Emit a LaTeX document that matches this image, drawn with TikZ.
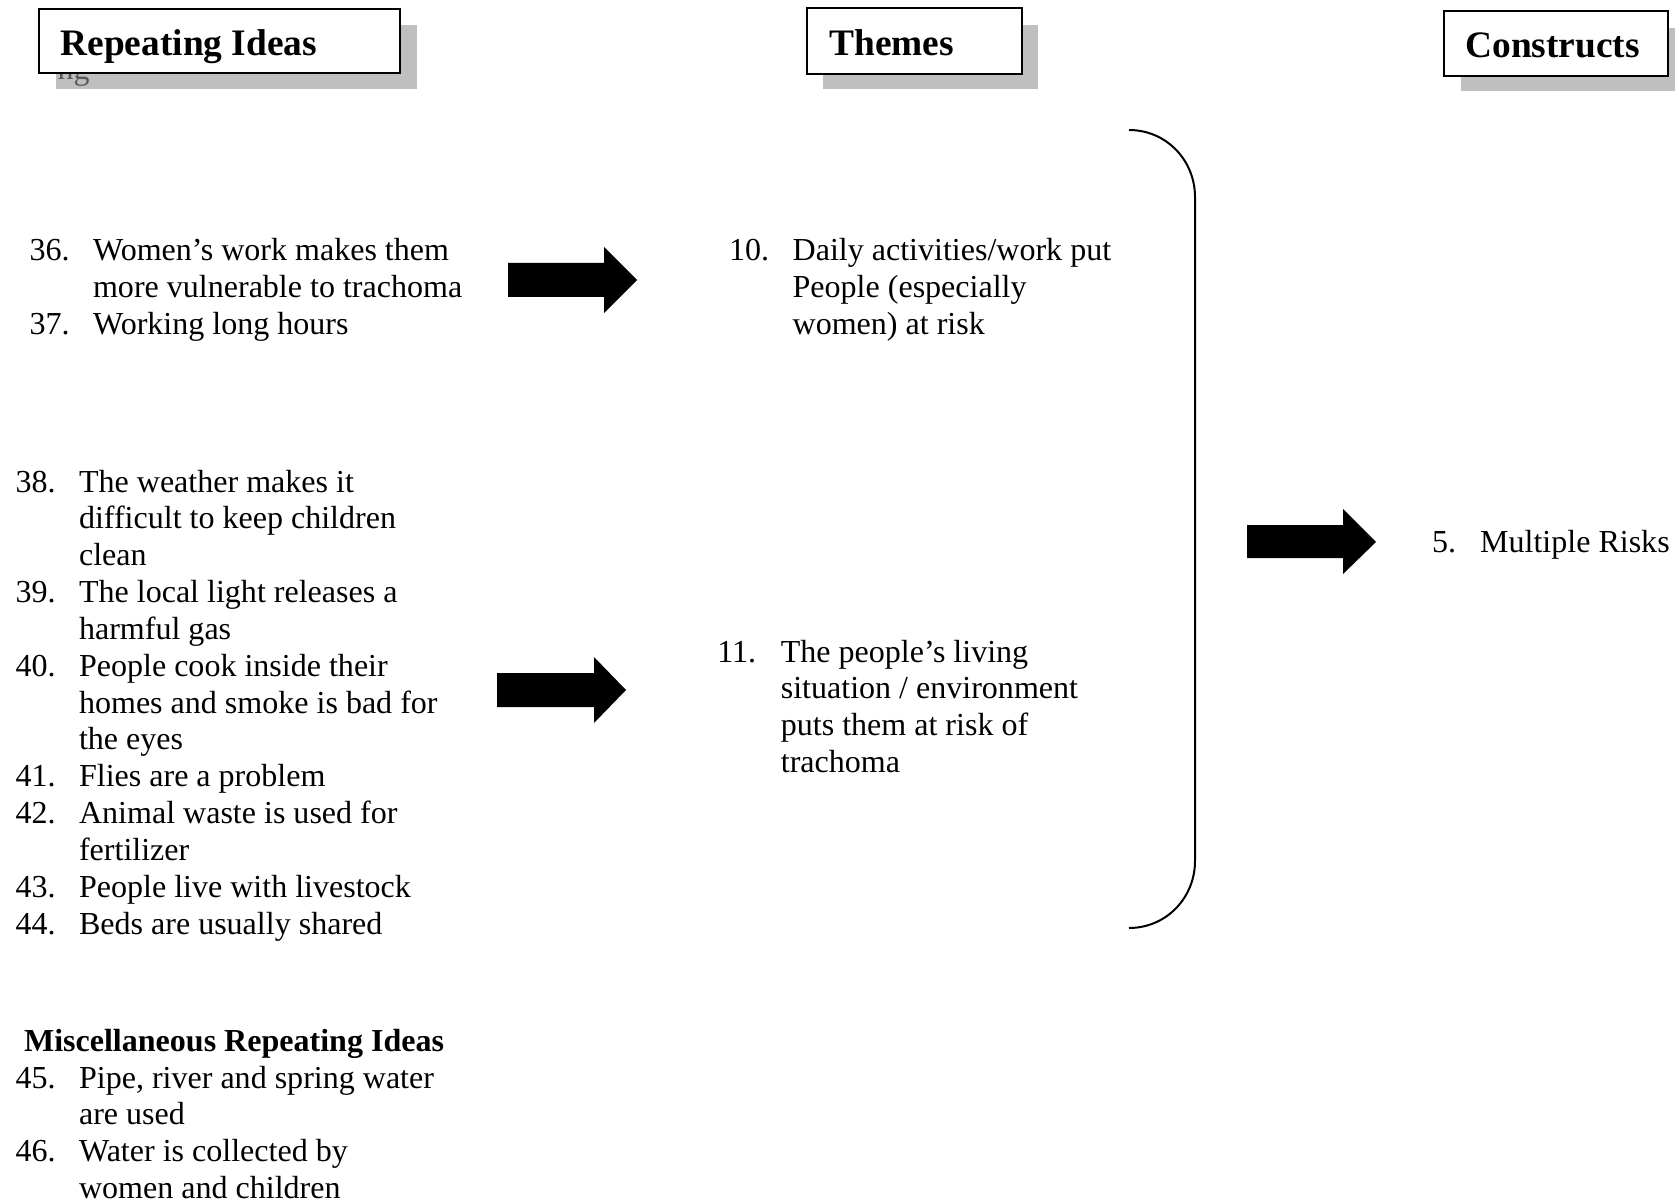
\documentclass[tikz,border=0pt]{standalone}
\usepackage{fontspec}
\setmainfont{Liberation Serif}
\usepackage{array}
\newcommand{\lst}[1]{{\fontsize{12}{13.8}\selectfont\begin{tabular}[t]{@{}p{23.8pt}@{}l@{}}#1\end{tabular}}}
\begin{document}
\begin{tikzpicture}[x=0.3746pt,y=-0.3746pt,
  shadowbox/.style={fill=black!25,draw=none},
  headbox/.style={fill=white,draw=black,line width=0.9pt},
  headtext/.style={inner sep=0pt,anchor=base west,font=\fontsize{14}{16}\selectfont\bfseries},
  txt/.style={inner sep=0pt,anchor=base west},
  blockarrow/.style={fill=black,draw=none},
  bracketline/.style={draw=black,line width=0.75pt}]
\useasboundingbox (0,0) rectangle (1675,1202);
% headers
\fill[shadowbox] (56,25) rectangle (417,89);
\node[txt,text=black!65,font=\fontsize{12}{13.8}\selectfont] (ng) at (57,80) {ng};
\filldraw[headbox] (39,9) rectangle (400,73);
\node[headtext] (h1) at (60,56) {Repeating Ideas};
\fill[shadowbox] (823,25) rectangle (1038,89);
\filldraw[headbox] (807,8) rectangle (1022,74);
\node[headtext] (h2) at (829,56) {Themes};
\fill[shadowbox] (1461,28) rectangle (1675,91);
\filldraw[headbox] (1444,11) rectangle (1668,76);
\node[headtext] (h3) at (1465,58) {Constructs};
% repeating ideas
\node[txt] (g1) at (29,261) {\lst{36. & Women’s work makes them\\ & more vulnerable to trachoma\\ 37. & Working long hours}};
\node[txt] (g2) at (15,492) {\lst{38. & The weather makes it\\ & difficult to keep children\\ & clean\\
39. & The local light releases a\\ & harmful gas\\
40. & People cook inside their\\ & homes and smoke is bad for\\ & the eyes\\
41. & Flies are a problem\\
42. & Animal waste is used for\\ & fertilizer\\
43. & People live with livestock\\
44. & Beds are usually shared}};
\node[txt,font=\fontsize{12}{13.8}\selectfont\bfseries] (mh) at (23.5,1051) {Miscellaneous Repeating Ideas};
\node[txt] (g3) at (15,1088) {\lst{45. & Pipe, river and spring water\\ & are used\\
46. & Water is collected by\\ & women and children}};
% themes
\node[txt] (t10) at (728.6,261) {\lst{10. & Daily activities/work put\\ & People (especially\\ & women) at risk}};
\node[txt] (t11) at (716.8,662) {\lst{11. & The people’s living\\ & situation / environment\\ & puts them at risk of\\ & trachoma}};
% construct
\node[txt,font=\fontsize{12}{13.8}\selectfont] (c5) at (1431.5,552) {5.};
\node[txt,font=\fontsize{12}{13.8}\selectfont] (c5t) at (1479.6,552) {Multiple Risks};
% block arrows
\fill[blockarrow] (508,263) -- (604,263) -- (604,247) -- (637,280) -- (604,313) -- (604,297) -- (508,297) -- cycle;
\fill[blockarrow] (497,673) -- (594,673) -- (594,657) -- (626,690) -- (594,723) -- (594,707) -- (497,707) -- cycle;
\fill[blockarrow] (1247,525) -- (1343,525) -- (1343,509) -- (1376,542) -- (1343,574) -- (1343,558) -- (1247,558) -- cycle;
% bracket
\coordinate (bt) at (1129,130);
\coordinate (bb) at (1129,928);
\draw[bracketline] (bt) .. controls (1166,130) and (1195,160) .. (1195,197) -- (1195,861) .. controls (1195,898) and (1166,928) .. (bb);
\end{tikzpicture}
\end{document}
